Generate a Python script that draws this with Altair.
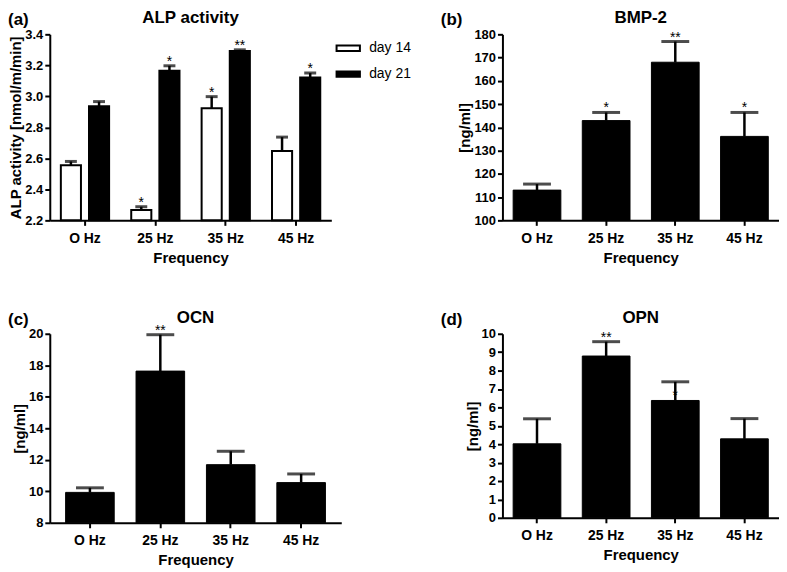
import altair as alt
import pandas as pd

FONT = "Liberation Sans"

freqs = ["O Hz", "25 Hz", "35 Hz", "45 Hz"]
days = ["day 14", "day 21"]

# (a) ALP activity
alp_day14 = [2.555, 2.267, 2.923, 2.647]
alp_day14_upper = [2.58, 2.288, 2.998, 2.737]
alp_day14_sig = ["", "*", "*", ""]
alp_day21 = [2.936, 3.165, 3.293, 3.122]
alp_day21_upper = [2.966, 3.197, 3.30, 3.15]
alp_day21_sig = ["", "*", "**", "*"]
alp_ticks = [2.2, 2.4, 2.6, 2.8, 3.0, 3.2, 3.4]

# (b) BMP-2
bmp2 = [113.0, 142.9, 168.0, 136.1]
bmp2_upper = [115.6, 146.4, 176.9, 146.4]
bmp2_sig = ["", "*", "**", "*"]
bmp2_ticks = [100, 110, 120, 130, 140, 150, 160, 170, 180]

# (c) OCN
ocn = [9.93, 17.63, 11.69, 10.55]
ocn_upper = [10.22, 19.94, 12.54, 11.10]
ocn_sig = ["", "**", "", ""]
ocn_ticks = [8, 10, 12, 14, 16, 18, 20]

# (d) OPN
opn = [4.02, 8.79, 6.375, 4.29]
opn_upper = [5.38, 9.57, 7.39, 5.39]
opn_sig = ["", "**", "*", ""]
opn_sig_on_bar = [False, False, True, False]
opn_ticks = [0, 1, 2, 3, 4, 5, 6, 7, 8, 9, 10]


def frame(values, upper, sig, day="day 21", sig_on_bar=None):
    if sig_on_bar is None:
        sig_on_bar = [False] * len(values)
    return pd.DataFrame({
        "freq": freqs,
        "day": [day] * len(values),
        "mean": values,
        "upper": upper,
        "sig": sig,
        "sig_y": [m if on else u for m, u, on in zip(values, upper, sig_on_bar)],
    })


def panel(df, ydomain, yticks, yfmt, ytitle, title, label, label_dx,
          width, height, outer=0.0, grouped=False, cap=28):
    x = alt.X("freq:N", sort=freqs,
              scale=alt.Scale(domain=freqs, paddingInner=0, paddingOuter=outer),
              axis=alt.Axis(title="Frequency", labelAngle=0))
    yscale = alt.Scale(domain=ydomain, zero=False, nice=False)
    yaxis = alt.Axis(title=ytitle, values=yticks, format=yfmt, labelOverlap=False)

    def Y(field):
        return alt.Y(field, scale=yscale, axis=yaxis)

    enc = {"x": x}
    if grouped:
        enc["xOffset"] = alt.XOffset("day:N", sort=days,
                                     scale=alt.Scale(domain=days, paddingInner=0.2857,
                                                     paddingOuter=0.393))
    base = alt.Chart(df).encode(**enc)
    if grouped:
        bars = base.mark_bar(stroke="black", strokeWidth=2).encode(
            y=Y("mean:Q"), y2=alt.datum(ydomain[0]),
            color=alt.Color("day:N", sort=days,
                            scale=alt.Scale(domain=days, range=["white", "black"]),
                            legend=alt.Legend(title=None, orient="none", legendX=287, legendY=1,
                                              padding=0,
                                              symbolType="M-1,-0.23H1V0.23H-1Z",
                                              symbolSize=550, symbolStrokeColor="black",
                                              symbolStrokeWidth=2, labelFontSize=14,
                                              labelFont=FONT, labelFontWeight="normal",
                                              labelColor="black", rowPadding=6,
                                              labelOffset=8)))
    else:
        bars = base.mark_bar(color="black", stroke="black", strokeWidth=1,
                             width={"band": 0.69}).encode(y=Y("mean:Q"),
                                                          y2=alt.datum(ydomain[0]))
    stars = base.mark_text(baseline="alphabetic", fontSize=14, font=FONT,
                           color="black").encode(y=Y("sig_y:Q"), text="sig:N")
    rules = base.mark_rule(color="black", strokeWidth=2.5).encode(
        y=Y("mean:Q"), y2="upper:Q")
    caps = base.mark_tick(color="black", thickness=3, size=cap).encode(y=Y("upper:Q"))
    lab = alt.Chart(pd.DataFrame({"t": [label]})).mark_text(
        align="left", baseline="top", fontSize=17, fontWeight="bold", font=FONT,
        color="black").encode(text="t:N", x=alt.value(label_dx), y=alt.value(-22))
    ttl = alt.Chart(pd.DataFrame({"t": [title]})).mark_text(
        align="center", baseline="alphabetic", fontSize=17, fontWeight="bold", font=FONT,
        color="black").encode(text="t:N", x=alt.value(width / 2), y=alt.value(-11))
    return alt.layer(bars, stars, rules, caps, lab, ttl).properties(
        width=width, height=height)


df_a = pd.concat([frame(alp_day14, alp_day14_upper, alp_day14_sig, "day 14"),
                  frame(alp_day21, alp_day21_upper, alp_day21_sig, "day 21")])
pa = panel(df_a, [2.2, 3.4], alp_ticks, ".1f", "ALP activity [nmol/m/min]",
           "ALP activity", "(a)", -42, 283, 187, grouped=True, cap=12)
pb = panel(frame(bmp2, bmp2_upper, bmp2_sig), [100, 180], bmp2_ticks, "d", "[ng/ml]",
           "BMP-2", "(b)", -62, 278, 187)
pc = panel(frame(ocn, ocn_upper, ocn_sig), [8, 20], ocn_ticks, "d", "[ng/ml]",
           "OCN", "(c)", -42, 293, 190, outer=0.07)
pd_ = panel(frame(opn, opn_upper, opn_sig, sig_on_bar=opn_sig_on_bar), [0, 10], opn_ticks,
            "d", "[ng/ml]", "OPN", "(d)", -62, 278, 185)

row1 = alt.hconcat(pa, pb, spacing=172, bounds="flush")
row2 = alt.hconcat(pc, pd_, spacing=162, bounds="flush")

chart = alt.vconcat(row1, row2, spacing=44).properties(
    padding=0
).configure_view(stroke=None).configure_axis(
    domainColor="black", domainWidth=2, tickColor="black", tickWidth=2, tickSize=5,
    grid=False, labelColor="black", titleColor="black", labelFont=FONT, titleFont=FONT,
    labelFontWeight="bold", titleFontWeight="bold", titleFontSize=15
).configure_axisX(
    labelFontSize=14, labelPadding=6, titlePadding=5
).configure_axisY(
    labelFontSize=13, labelPadding=2, titlePadding=1
)

chart.save("out.html", embed_options={"renderer": "svg", "actions": False})
